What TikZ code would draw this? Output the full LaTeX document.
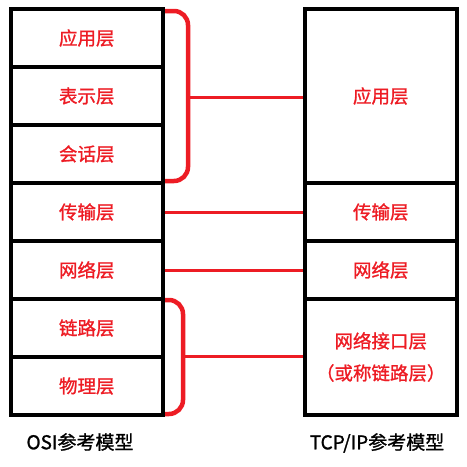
\documentclass[tikz,border=0pt]{standalone}
\usepackage{fontspec}
\setmainfont{Noto Sans CJK SC}
\newfontfamily\labfont[FakeBold=1.2]{Noto Sans CJK SC}
\begin{document}
\definecolor{lred}{HTML}{ED1C24}
\begin{tikzpicture}[x=1pt,y=-1pt,
  layer/.style={draw=black, line width=4pt, inner sep=0pt, minimum width=151.5pt, text=lred, font=\labfont\fontsize{18.5}{32}\selectfont, align=center},
  brace/.style={draw=lred, line width=4.5pt, rounded corners=14pt},
  conn/.style={draw=lred, line width=3pt},
  caption/.style={font=\labfont\fontsize{19}{22}\selectfont, text=black}]
\useasboundingbox (0,0) rectangle (467,467);
% OSI column
\node[layer, minimum height=58pt] (app) at (86.75,38) {应用层};
\node[layer, minimum height=58pt] (pre) at (86.75,96) {表示层};
\node[layer, minimum height=58pt] (ses) at (86.75,154) {会话层};
\node[layer, minimum height=58pt] (tra) at (86.75,212) {传输层};
\node[layer, minimum height=58pt] (net) at (86.75,270) {网络层};
\node[layer, minimum height=58pt] (dat) at (86.75,328) {链路层};
\node[layer, minimum height=58pt] (phy) at (86.75,386) {物理层};
% TCP/IP column
\node[layer, minimum height=174pt] (tapp) at (380.75,96) {应用层};
\node[layer, minimum height=58pt] (ttra) at (380.75,212) {传输层};
\node[layer, minimum height=58pt] (tnet) at (380.75,270) {网络层};
\node[layer, minimum height=116pt] (tint) at (380.75,357) {网络接口层\\（或称链路层）};
% braces
\draw[brace] (165,11) -- (188,11) -- (188,181) -- (165,181);
\draw[brace] (165,300) -- (183,300) -- (183,414) -- (165,414);
\coordinate (b1) at (188,97);
\coordinate (b2) at (183,356);
% connectors
\draw[conn] (b1) -- (b1 -| tapp.west);
\draw[conn] (tra.east) -- (ttra.west);
\draw[conn] (net.east) -- (tnet.west);
\draw[conn] (b2) -- (b2 -| tint.west);
% captions
\node[caption] (osi) at (80,442) {OSI参考模型};
\node[caption] (tcp) at (377,443) {TCP/IP参考模型};
\end{tikzpicture}
\end{document}
